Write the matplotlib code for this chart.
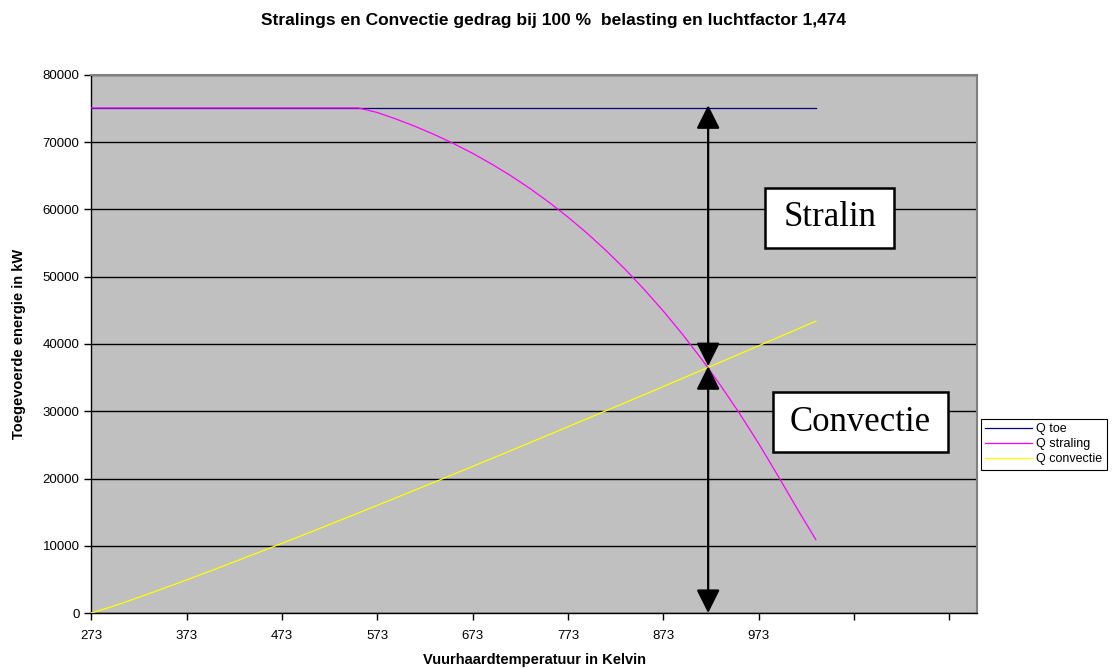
import matplotlib
matplotlib.use("Agg")
import matplotlib.pyplot as plt
from matplotlib.patches import FancyArrowPatch, Rectangle

plt.rcParams['font.family'] = ['Liberation Sans', 'DejaVu Sans']

# vuurhaardtemperatuur (K)
temp = [273, 293, 313, 333, 353, 373, 393, 413, 433, 453,
        473, 493, 513, 533, 553, 573, 593, 613, 633, 653,
        673, 693, 713, 733, 753, 773, 793, 813, 833, 853,
        873, 893, 913, 933, 953, 973, 993, 1013, 1033]

# toegevoerde warmte (kW)
q_toe = [75100] * len(temp)

q_straling = [75100, 75100, 75100, 75100, 75100, 75100, 75100, 75100, 75100, 75100,
              75100, 75100, 75100, 75100, 75100, 74420, 73430, 72340, 71130, 69800,
              68350, 66750, 65020, 63130, 61080, 58860, 56470, 53880, 51100, 48100,
              44890, 41460, 37780, 33850, 29660, 25200, 20460, 15600, 10900]

q_convectie = [0, 880, 1840, 2850, 3880, 4930, 5990, 7070, 8160, 9260,
               10360, 11480, 12600, 13740, 14870, 16020, 17160, 18320, 19470, 20640,
               21800, 22970, 24150, 25330, 26510, 27700, 28890, 30080, 31280, 32480,
               33680, 34890, 36100, 37300, 38520, 39730, 40960, 42180, 43400]

xticks = [273, 373, 473, 573, 673, 773, 873, 973, 1073, 1173]
xtick_labels = ['273', '373', '473', '573', '673', '773', '873', '973', '', '']
yticks = [0, 10000, 20000, 30000, 40000, 50000, 60000, 70000, 80000]

# pijlen en tekstvakken
arrow_x = 920
arrow_top = 75500
snijpunt = 36700

fig = plt.figure(figsize=(11.2, 6.69), dpi=100)
ax = fig.add_axes([0.0816, 0.0837, 0.7907, 0.8042])
ax.set_facecolor('#C0C0C0')

ax.plot(temp, q_toe, color='#000080', lw=0.9, label='Q toe', zorder=3)
ax.plot(temp, q_straling, color='#FF00FF', lw=0.9, label='Q straling', zorder=3)
ax.plot(temp, q_convectie, color='#FFFF00', lw=0.9, label='Q convectie', zorder=3)

ax.set_xlim(273, 1202)
ax.set_ylim(0, 80000)
ax.set_xticks(xticks)
ax.set_xticklabels(xtick_labels)
ax.set_yticks(yticks)
ax.set_yticklabels([str(v) for v in yticks])
ax.tick_params(axis='both', direction='out', length=5, width=1, labelsize=9.5,
               color='black')
ax.tick_params(axis='x', pad=7)

ax.yaxis.grid(True, color='black', lw=1)
ax.set_axisbelow(True)

for s in ['top', 'right']:
    ax.spines[s].set_color('#808080')
    ax.spines[s].set_linewidth(1.5)
for s in ['left', 'bottom']:
    ax.spines[s].set_color('black')
    ax.spines[s].set_linewidth(1)

# dubbele pijlen voor straling en convectie
for y0, y1 in [(snijpunt, arrow_top), (0, snijpunt)]:
    pijl = FancyArrowPatch((arrow_x, y0), (arrow_x, y1),
                           arrowstyle='<|-|>,head_length=14.4,head_width=7.2',
                           mutation_scale=1, shrinkA=0, shrinkB=0,
                           color='black', lw=1.6, zorder=5)
    ax.add_patch(pijl)

# tekstvakken
vakken = [('Stralin', 979.8, 54300, 135.4, 8900),
          ('Convectie', 988.1, 23940, 183.6, 8920)]
for tekst, x0, y0, w, h in vakken:
    ax.add_patch(Rectangle((x0, y0), w, h, facecolor='white', edgecolor='black',
                           lw=1.8, zorder=6))
    ax.text(x0 + w / 2, y0 + h / 2, tekst, ha='center', va='center',
            family='Liberation Serif', fontsize=25, zorder=7)

fig.text(0.494, 0.969, 'Stralings en Convectie gedrag bij 100 %  belasting en luchtfactor 1,474',
         ha='center', va='center', fontsize=12.5, fontweight='bold')
ax.set_xlabel('Vuurhaardtemperatuur in Kelvin', fontsize=10.5, fontweight='bold',
              labelpad=8)
ax.set_ylabel('Toegevoerde energie in kW', fontsize=10.5, fontweight='bold',
              labelpad=12)

leg = ax.legend(loc='center left', bbox_to_anchor=(1.004, 0.314), fontsize=9,
                frameon=True, fancybox=False, edgecolor='black', framealpha=1,
                borderpad=0.35, labelspacing=0.25, handlelength=3.8,
                handletextpad=0.3, borderaxespad=0)
leg.get_frame().set_linewidth(0.8)

fig.savefig('out.png', dpi=100)
